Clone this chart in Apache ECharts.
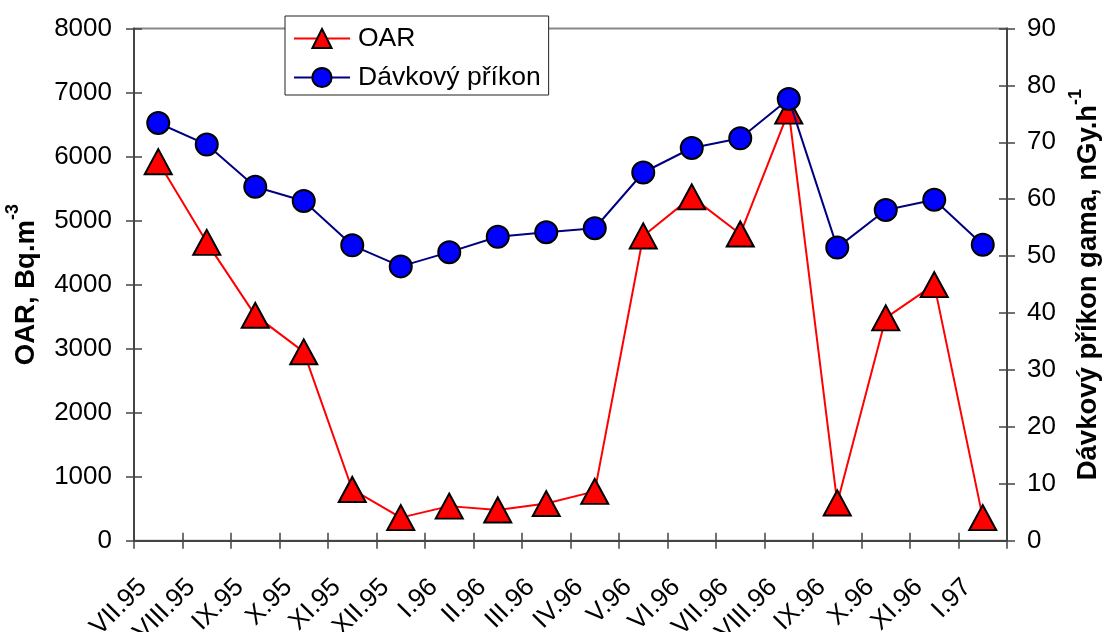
<!DOCTYPE html>
<html><head><meta charset="utf-8">
<script src="https://cdn.jsdelivr.net/npm/echarts@6/dist/echarts.min.js"></script>
<style>html,body{margin:0;padding:0;background:#fff}#c{width:1104px;height:632px}</style>
</head><body><div id="c"></div>
<script>
const categories = ['VII.95','VIII.95','IX.95','X.95','XI.95','XII.95','I.96','II.96','III.96','IV.96','V.96','VI.96','VII.96','VIII.96','IX.96','X.96','XI.96','I.97'];
const oar = [5920, 4660, 3520, 2950, 800, 360, 540, 480, 580, 770, 4760, 5370, 4790, 6710, 590, 3480, 4000, 360];
const davkovy = [73.4, 69.6, 62.2, 59.7, 51.9, 48.2, 50.7, 53.4, 54.2, 54.9, 64.7, 69.0, 70.7, 77.6, 51.5, 58.1, 59.9, 52.0];
const leftTicks = {min: 0, max: 8000, interval: 1000};
const rightTicks = {min: 0, max: 90, interval: 10};

const FONT = 'Liberation Sans, Arial, sans-serif';
const AX = '#444';
const chart = echarts.init(document.getElementById('c'));

function nameRich() {
  return {rich: {
    b: {fontSize: 27.5, fontWeight: 'bold', color: '#000', fontFamily: FONT, lineHeight: 36, verticalAlign: 'bottom'},
    s: {fontSize: 18, fontWeight: 'bold', color: '#000', fontFamily: FONT, lineHeight: 36, verticalAlign: 'top'}
  }};
}
function innerTickAxis(pos, t) {
  return {
    type: 'value', position: pos, min: t.min, max: t.max, interval: t.interval,
    axisLine: {show: false}, axisLabel: {show: false}, splitLine: {show: false},
    axisTick: {show: true, inside: true, length: 8, lineStyle: {color: AX, width: 1.5}}
  };
}

chart.setOption({
  animation: false,
  textStyle: {fontFamily: FONT},
  grid: {left: 134, right: 97, top: 28.5, bottom: 91.3, show: true, borderColor: '#888', borderWidth: 2,
         backgroundColor: 'transparent', containLabel: false, outerBoundsMode: 'none'},
  legend: {
    orient: 'vertical', left: 285, top: 16,
    backgroundColor: '#fff', borderColor: '#222', borderWidth: 1, borderRadius: 0,
    padding: [9, 8, 4, 8], itemGap: 12, itemWidth: 56, itemHeight: 24,
    textStyle: {fontSize: 26.5, color: '#000', fontFamily: FONT, padding: [0, 0, 0, 3]},
    data: ['OAR', 'Dávkový příkon']
  },
  xAxis: [{
    type: 'category', data: categories, boundaryGap: true,
    axisLine: {lineStyle: {color: AX, width: 2}},
    axisTick: {show: true, length: 8, lineStyle: {color: AX, width: 1.5}},
    axisLabel: {interval: 0, rotate: 45, fontSize: 26, color: '#000', margin: 27, padding: [0, 22, 0, 0]},
    splitLine: {show: false}
  }, {
    type: 'category', data: categories, boundaryGap: true, position: 'bottom',
    axisLine: {show: false}, axisLabel: {show: false}, splitLine: {show: false},
    axisTick: {show: true, inside: true, length: 8, lineStyle: {color: AX, width: 1.5}}
  }],
  yAxis: [
    {
      type: 'value', position: 'left', min: leftTicks.min, max: leftTicks.max, interval: leftTicks.interval,
      axisLine: {show: true, lineStyle: {color: AX, width: 2}},
      axisTick: {show: true, length: 8, lineStyle: {color: AX, width: 1.5}},
      axisLabel: {fontSize: 26, color: '#000', margin: 22, formatter: v => String(v)},
      splitLine: {show: false},
      name: '{b|OAR, Bq.m}{s|-3}', nameLocation: 'middle', nameRotate: 90, nameGap: 94,
      nameTextStyle: nameRich()
    },
    {
      type: 'value', position: 'right', min: rightTicks.min, max: rightTicks.max, interval: rightTicks.interval,
      axisLine: {show: true, lineStyle: {color: AX, width: 2}},
      axisTick: {show: true, length: 8, lineStyle: {color: AX, width: 1.5}},
      axisLabel: {fontSize: 26, color: '#000', margin: 20, formatter: v => String(v)},
      splitLine: {show: false},
      name: '{b|Dávkový příkon gama, nGy.h}{s|-1}', nameLocation: 'middle', nameRotate: 90, nameGap: 55,
      nameTextStyle: nameRich()
    },
    innerTickAxis('left', leftTicks),
    innerTickAxis('right', rightTicks)
  ],
  series: [
    {
      name: 'OAR', type: 'line', xAxisIndex: 0, yAxisIndex: 0, data: oar,
      symbol: 'triangle', symbolSize: [27, 25],
      lineStyle: {color: '#ff0000', width: 2},
      itemStyle: {color: '#ff0000', borderColor: '#000', borderWidth: 2},
      z: 2
    },
    {
      name: 'Dávkový příkon', type: 'line', xAxisIndex: 0, yAxisIndex: 1, data: davkovy,
      symbol: 'circle', symbolSize: 22,
      lineStyle: {color: '#000080', width: 2},
      itemStyle: {color: '#0000ff', borderColor: '#000', borderWidth: 2},
      z: 3
    }
  ]
});
</script></body></html>
